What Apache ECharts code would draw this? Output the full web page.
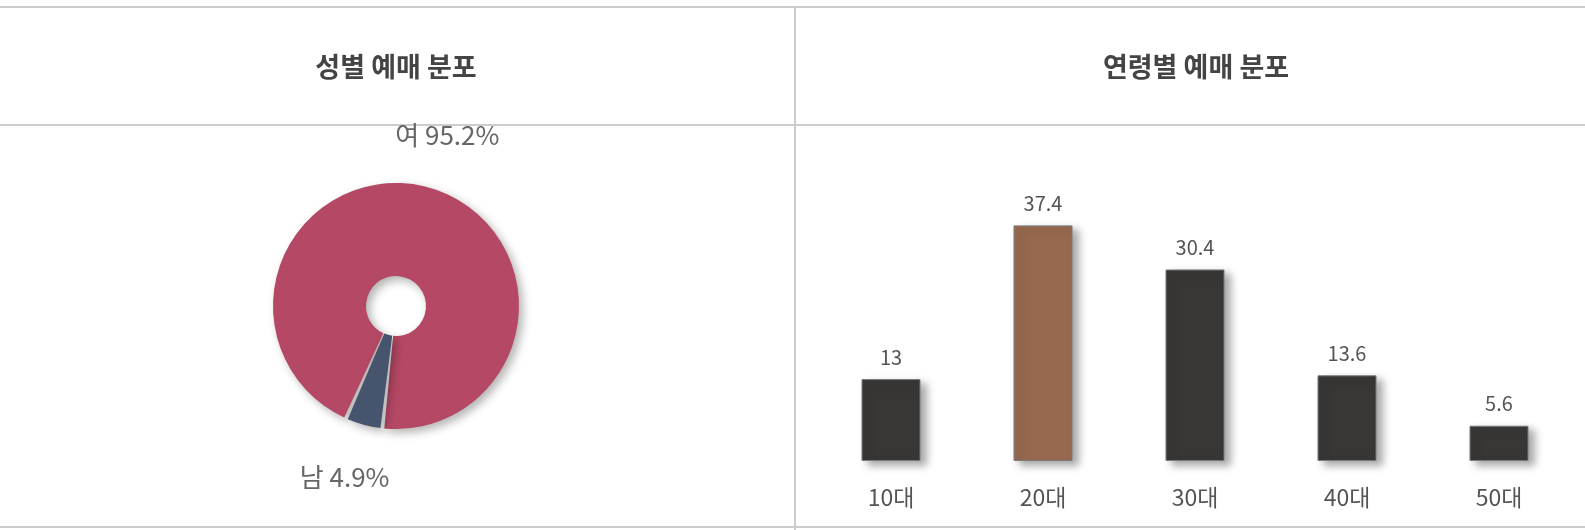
<!DOCTYPE html>
<html>
<head>
<meta charset="utf-8">
<script src="https://cdn.jsdelivr.net/npm/echarts@6/dist/echarts.min.js"></script>
<style>
  html, body { margin: 0; padding: 0; background: #fff; }
  #chart { width: 1585px; height: 530px; }
</style>
</head>
<body>
<div id="chart"></div>
<script>
// 성별 예매 분포
var genderNames = ['여', '남']
var genderValues = [95.2, 4.9]
var genderColors = ['#b54865', '#46546e']

// 연령별 예매 분포
var ageCategories = ['10대', '20대', '30대', '40대', '50대']
var ageValues = [13, 37.4, 30.4, 13.6, 5.6]
var ageHighlight = 1 // 20대

var FONT = '"Noto Sans CJK KR", "Noto Sans", sans-serif'
var LINE = '#cccccc'

var chart = echarts.init(document.getElementById('chart'))

chart.setOption({
  animation: false,
  backgroundColor: '#fff',
  graphic: [
    // table borders
    { type: 'line', shape: { x1: 0, y1: 7, x2: 1585, y2: 7 }, style: { stroke: LINE, lineWidth: 2 } },
    { type: 'line', shape: { x1: 0, y1: 125, x2: 1585, y2: 125 }, style: { stroke: LINE, lineWidth: 2 } },
    { type: 'line', shape: { x1: 0, y1: 527, x2: 1585, y2: 527 }, style: { stroke: LINE, lineWidth: 2 } },
    { type: 'line', shape: { x1: 795, y1: 7, x2: 795, y2: 530 }, style: { stroke: LINE, lineWidth: 2 } },
    // headers
    {
      type: 'text', x: 396, y: 67,
      style: { text: '성별 예매 분포', fill: '#444', font: 'bold 27px ' + FONT, align: 'center', verticalAlign: 'middle' }
    },
    {
      type: 'text', x: 1196, y: 67,
      style: { text: '연령별 예매 분포', fill: '#444', font: 'bold 27px ' + FONT, align: 'center', verticalAlign: 'middle' }
    }
  ],
  grid: {
    left: 815,
    right: 10,
    top: 209,
    bottom: 69
  },
  xAxis: {
    type: 'category',
    data: ageCategories,
    axisLine: { show: false },
    axisTick: { show: false },
    axisLabel: { color: '#555', fontSize: 23, fontFamily: FONT, margin: 25 }
  },
  yAxis: {
    type: 'value',
    min: 0,
    max: 40,
    show: false,
    splitLine: { show: false }
  },
  series: [
    {
      type: 'pie',
      center: [396, 306],
      radius: [30, 123],
      startAngle: 246,
      clockwise: true,
      padAngle: 1.8,
      avoidLabelOverlap: false,
      data: genderNames.map(function (n, i) {
        return { name: n, value: genderValues[i], itemStyle: { color: genderColors[i] } }
      }),
      itemStyle: {
        borderWidth: 0,
        shadowBlur: 10,
        shadowOffsetX: 4,
        shadowOffsetY: 4,
        shadowColor: 'rgba(0,0,0,0.3)'
      },
      label: {
        show: true,
        position: 'outside',
        formatter: function (p) { return p.name + ' ' + p.value + '%' },
        color: '#666',
        fontSize: 26,
        fontFamily: FONT
      },
      labelLine: { show: false, length: 54, length2: 0 },
      labelLayout: { align: 'center' },
      emphasis: { disabled: true }
    },
    {
      type: 'bar',
      barWidth: 59,
      data: ageValues.map(function (v, i) {
        return { value: v, itemStyle: { color: i === ageHighlight ? '#976950' : '#383735' } }
      }),
      itemStyle: {
        borderColor: '#7a7a7a',
        borderWidth: 1,
        shadowBlur: 8,
        shadowOffsetX: 6,
        shadowOffsetY: 4,
        shadowColor: 'rgba(0,0,0,0.35)'
      },
      label: {
        show: true,
        position: 'top',
        distance: 12,
        color: '#555',
        fontSize: 20,
        fontFamily: FONT
      },
      emphasis: { disabled: true }
    }
  ]
})
</script>
</body>
</html>
